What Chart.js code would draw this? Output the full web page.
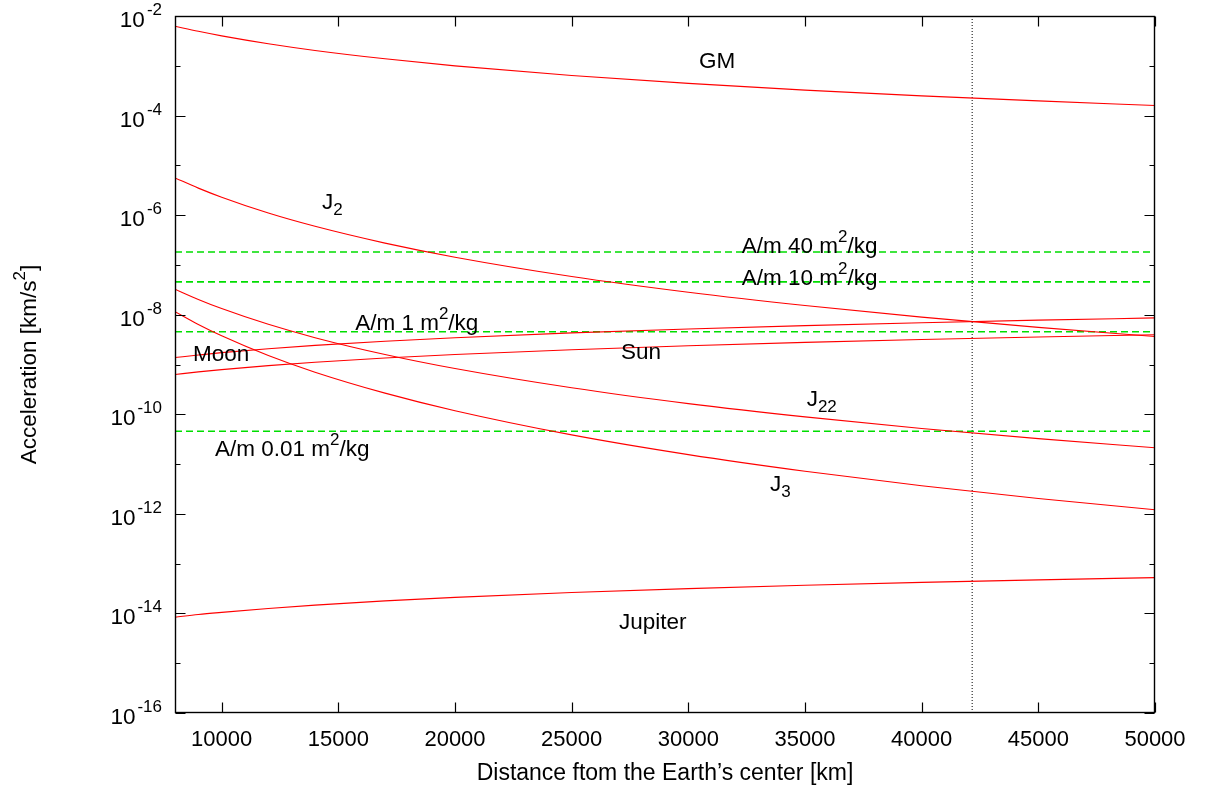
<!DOCTYPE html>
<html>
<head>
<meta charset="utf-8">
<script src="https://cdn.jsdelivr.net/npm/chart.js@4"></script>
<style>
  html, body { margin: 0; padding: 0; background: #fff; }
  canvas { display: block; }
</style>
</head>
<body>
<canvas id="accChart" width="1206" height="789"></canvas>
<script>
// distance from the Earth's center [km]
const radius = [8000, 9000, 10000, 12000, 14000, 17000, 20000, 25000, 30000, 35000, 40000, 45000, 50000];

// accelerations [km/s^2]
const accGM      = [6.23e-3, 4.92e-3, 3.99e-3, 2.77e-3, 2.03e-3, 1.38e-3, 9.97e-4, 6.38e-4, 4.43e-4, 3.25e-4, 2.49e-4, 1.97e-4, 1.59e-4];
const accJ2      = [5.6e-6, 3.49e-6, 2.29e-6, 1.10e-6, 5.96e-7, 2.74e-7, 1.43e-7, 5.86e-8, 2.83e-8, 1.53e-8, 8.95e-9, 5.58e-9, 3.66e-9];
const accJ22     = [3.25e-8, 2.03e-8, 1.33e-8, 6.41e-9, 3.46e-9, 1.59e-9, 8.31e-10, 3.41e-10, 1.64e-10, 8.86e-11, 5.20e-11, 3.24e-11, 2.13e-11];
const accJ3      = [1.15e-8, 6.38e-9, 3.77e-9, 1.515e-9, 7.01e-10, 2.66e-10, 1.18e-10, 3.86e-11, 1.55e-11, 7.18e-12, 3.68e-12, 2.04e-12, 1.21e-12];
const accMoon    = [1.38e-9, 1.55e-9, 1.73e-9, 2.07e-9, 2.42e-9, 2.94e-9, 3.45e-9, 4.32e-9, 5.18e-9, 6.04e-9, 6.91e-9, 7.77e-9, 8.63e-9];
const accSun     = [6.3e-10, 7.1e-10, 7.9e-10, 9.5e-10, 1.11e-9, 1.35e-9, 1.59e-9, 1.98e-9, 2.38e-9, 2.78e-9, 3.17e-9, 3.57e-9, 3.96e-9];
const accJupiter = [8.4e-15, 9.5e-15, 1.05e-14, 1.26e-14, 1.47e-14, 1.79e-14, 2.1e-14, 2.63e-14, 3.15e-14, 3.68e-14, 4.2e-14, 4.73e-14, 5.25e-14];

// solar radiation pressure levels (constant in r)
const srpEnds = [8000, 50000];
const srp40   = [1.82e-7, 1.82e-7];
const srp10   = [4.56e-8, 4.56e-8];
const srp1    = [4.56e-9, 4.56e-9];
const srp001  = [4.56e-11, 4.56e-11];

// geostationary radius
const geoRadius = 42164;

// ticks
const xTickValues = [10000, 15000, 20000, 25000, 30000, 35000, 40000, 45000, 50000];
const yDecades = [-16, -15, -14, -13, -12, -11, -10, -9, -8, -7, -6, -5, -4, -3, -2];

// curve labels, anchored (left, baseline) in data coordinates
const curveLabels = [
  { x: 30460, y: 9.0e-4,   parts: [['GM']] },
  { x: 14300, y: 1.33e-6,  parts: [['J'], ['2', 'sub']] },
  { x: 32290, y: 1.72e-7,  parts: [['A/m 40 m'], ['2', 'sup'], ['/kg']] },
  { x: 32290, y: 3.96e-8,  parts: [['A/m 10 m'], ['2', 'sup'], ['/kg']] },
  { x: 15720, y: 4.95e-9,  parts: [['A/m 1 m'], ['2', 'sup'], ['/kg']] },
  { x: 8770,  y: 1.18e-9,  parts: [['Moon']] },
  { x: 27110, y: 1.29e-9,  parts: [['Sun']] },
  { x: 35070, y: 1.48e-10, parts: [['J'], ['22', 'sub']] },
  { x: 9710,  y: 1.46e-11, parts: [['A/m 0.01 m'], ['2', 'sup'], ['/kg']] },
  { x: 33500, y: 2.9e-12,  parts: [['J'], ['3', 'sub']] },
  { x: 27030, y: 4.9e-15,  parts: [['Jupiter']] }
];

const FONT = '"Liberation Sans", Arial, sans-serif';
const mainFont = '22.5px ' + FONT;
const smallFont = '17px ' + FONT;

function pts(xs, ys) {
  return xs.map((v, i) => ({ x: v, y: ys[i] }));
}

function drawRich(ctx, parts, x, y) {
  let cx = x;
  parts.forEach(p => {
    ctx.font = p[1] ? smallFont : mainFont;
    const dy = p[1] === 'sup' ? -11 : (p[1] === 'sub' ? 6 : 0);
    ctx.fillText(p[0], cx, y + dy);
    cx += ctx.measureText(p[0]).width;
  });
  return cx - x;
}

function richWidth(ctx, parts) {
  let w = 0;
  parts.forEach(p => {
    ctx.font = p[1] ? smallFont : mainFont;
    w += ctx.measureText(p[0]).width;
  });
  return w;
}

const frameAndLabels = {
  id: 'frameAndLabels',
  afterDatasetsDraw(chart) {
    const { ctx, chartArea: a, scales: { x, y } } = chart;
    ctx.save();
    ctx.strokeStyle = '#000';
    ctx.lineWidth = 1.4;
    const L = Math.round(a.left) + 0.5, R = Math.round(a.right) - 0.5;
    const T = Math.round(a.top) + 0.5, B = Math.round(a.bottom) - 0.5;
    ctx.strokeRect(L, T, R - L, B - T);

    // tick marks, inward on all four sides
    ctx.lineWidth = 1.2;
    ctx.beginPath();
    xTickValues.forEach(v => {
      const px = Math.round(x.getPixelForValue(v)) + 0.5;
      ctx.moveTo(px, B); ctx.lineTo(px, B - 10);
      ctx.moveTo(px, T); ctx.lineTo(px, T + 10);
    });
    yDecades.forEach(e => {
      const py = Math.round(y.getPixelForValue(Math.pow(10, e))) + 0.5;
      const len = e % 2 === 0 ? 10 : 5;
      ctx.moveTo(L, py); ctx.lineTo(L + len, py);
      ctx.moveTo(R, py); ctx.lineTo(R - len, py);
    });
    ctx.stroke();

    ctx.fillStyle = '#000';
    ctx.textBaseline = 'alphabetic';
    ctx.textAlign = 'left';

    // y tick labels 10^e
    yDecades.filter(e => e % 2 === 0).forEach(e => {
      const py = y.getPixelForValue(Math.pow(10, e));
      ctx.font = smallFont;
      const expTxt = String(e);
      const expW = ctx.measureText(expTxt).width;
      ctx.fillText(expTxt, 162 - expW, py - 1);
      ctx.font = '22.5px ' + FONT;
      const baseW = ctx.measureText('10').width;
      ctx.fillText('10', 162 - expW - 2 - baseW, py + 11);
    });

    // curve labels
    curveLabels.forEach(l => {
      drawRich(ctx, l.parts, x.getPixelForValue(l.x), y.getPixelForValue(l.y));
    });

    // x axis title
    ctx.font = '23px ' + FONT;
    ctx.textAlign = 'center';
    ctx.fillText('Distance ftom the Earth\u2019s center [km]', (a.left + a.right) / 2, 780);

    // y axis title (rotated)
    ctx.textAlign = 'left';
    const yTitle = [['Acceleration [km/s'], ['2', 'sup'], [']']];
    const w = richWidth(ctx, yTitle);
    ctx.translate(36, (a.top + a.bottom) / 2);
    ctx.rotate(-Math.PI / 2);
    drawRich(ctx, yTitle, -w / 2, 0);
    ctx.restore();
  }
};

document.addEventListener('DOMContentLoaded', function () {
  const ctx = document.getElementById('accChart').getContext('2d');
  const red = '#ff0000';
  const green = '#00dd00';

  const curve = (data) => ({
    data: pts(radius, data),
    borderColor: red,
    borderWidth: 1.1,
    pointRadius: 0,
    cubicInterpolationMode: 'monotone',
    fill: false
  });
  const srp = (data) => ({
    data: pts(srpEnds, data),
    borderColor: green,
    borderWidth: 1.6,
    borderDash: [7, 4],
    pointRadius: 0,
    fill: false
  });

  new Chart(ctx, {
    type: 'line',
    data: {
      datasets: [
        curve(accGM),
        curve(accJ2),
        curve(accJ22),
        curve(accJ3),
        curve(accMoon),
        curve(accSun),
        curve(accJupiter),
        srp(srp40),
        srp(srp10),
        srp(srp1),
        srp(srp001),
        {
          data: [{ x: geoRadius, y: 1e-16 }, { x: geoRadius, y: 1e-2 }],
          borderColor: '#000',
          borderWidth: 1,
          borderDash: [1, 2],
          pointRadius: 0,
          fill: false
        }
      ]
    },
    options: {
      responsive: false,
      animation: false,
      layout: { padding: { left: 0, top: 16, right: 51, bottom: 0 } },
      plugins: {
        legend: { display: false },
        tooltip: { enabled: false }
      },
      scales: {
        x: {
          type: 'linear',
          min: 8000,
          max: 50000,
          grid: { display: false, drawTicks: false },
          border: { display: false },
          afterBuildTicks: s => { s.ticks = xTickValues.map(v => ({ value: v })); },
          afterFit: s => { s.height = 76; },
          ticks: {
            color: '#000',
            padding: 14,
            autoSkip: false,
            maxRotation: 0,
            font: { family: FONT, size: 22 },
            callback: v => String(v)
          }
        },
        y: {
          type: 'logarithmic',
          min: 1e-16,
          max: 1e-2,
          grid: { display: false, drawTicks: false },
          border: { display: false },
          afterFit: s => { s.width = 175; },
          ticks: { display: false }
        }
      }
    },
    plugins: [frameAndLabels]
  });
});
</script>
</body>
</html>
